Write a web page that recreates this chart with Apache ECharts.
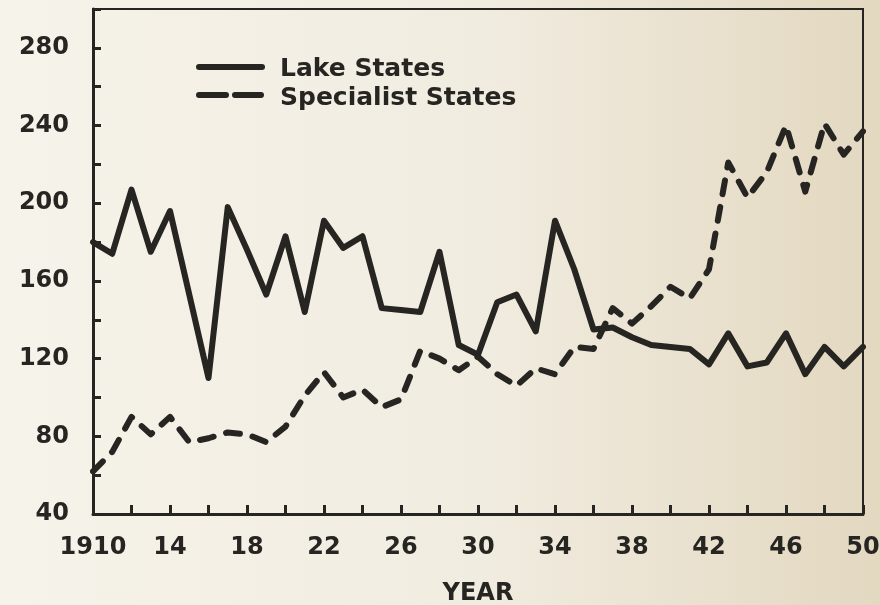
<!DOCTYPE html>
<html>
<head>
<meta charset="utf-8">
<script src="https://cdn.jsdelivr.net/npm/echarts@6/dist/echarts.min.js"></script>
<style>
html,body{margin:0;padding:0;}
#chart{width:880px;height:605px;}
</style>
</head>
<body>
<div id="chart"></div>
<script>
// Data
var years = [1910,1911,1912,1913,1914,1915,1916,1917,1918,1919,1920,1921,1922,1923,1924,1925,1926,1927,1928,1929,1930,1931,1932,1933,1934,1935,1936,1937,1938,1939,1940,1941,1942,1943,1944,1945,1946,1947,1948,1949,1950];
var lakeStates = [180,174,207,175,196,153,110,198,176,153,183,144,191,177,183,146,145,144,175,127,122,149,153,134,191,166,135,136,131,127,126,125,117,133,116,118,133,112,126,116,126];
var specialistStates = [62,72,90,81,90,77,79,82,81,77,85,101,113,100,104,95,99,124,120,114,121,112,106,115,112,126,125,146,138,147,157,151,166,221,203,216,240,206,241,225,237];
var xTickLabels = {1910:'1910',1914:'14',1918:'18',1922:'22',1926:'26',1930:'30',1934:'34',1938:'38',1942:'42',1946:'46',1950:'50'};
var yTickLabels = [40,80,120,160,200,240,280];
var seriesNames = ['Lake States','Specialist States'];
var xAxisTitle = 'YEAR';

function pairs(xs, ys){ return xs.map(function(x,i){ return [x, ys[i]]; }); }

var ink = '#262522';
var font = 'DejaVu Sans';
var dash = [14, 13];
var chart = echarts.init(document.getElementById('chart'));
chart.setOption({
  animation: false,
  backgroundColor: {
    type: 'linear', x: 0, y: 0, x2: 1, y2: 0,
    colorStops: [
      {offset: 0, color: '#f6f3ea'},
      {offset: 0.55, color: '#f1ece0'},
      {offset: 1, color: '#e3d8c0'}
    ]
  },
  grid: {
    left: 93, right: 17, top: 9, bottom: 91,
    containLabel: false, outerBoundsMode: 'none',
    show: true, borderColor: ink, borderWidth: 2, backgroundColor: 'transparent'
  },
  graphic: [
    {type: 'line', shape: {x1: 199, y1: 67, x2: 262, y2: 67},
     style: {stroke: ink, lineWidth: 6, lineCap: 'round'}},
    {type: 'line', shape: {x1: 199, y1: 95, x2: 226, y2: 95},
     style: {stroke: ink, lineWidth: 6, lineCap: 'round'}},
    {type: 'line', shape: {x1: 235, y1: 95, x2: 261, y2: 95},
     style: {stroke: ink, lineWidth: 6, lineCap: 'round'}},
    {type: 'text', left: 280, top: 57,
     style: {text: seriesNames[0], fill: ink, font: 'bold 25px "DejaVu Sans"'}},
    {type: 'text', left: 280, top: 86,
     style: {text: seriesNames[1], fill: ink, font: 'bold 25px "DejaVu Sans"'}}
  ],
  xAxis: {
    type: 'value', min: 1910, max: 1950, interval: 2,
    name: xAxisTitle, nameLocation: 'middle', nameGap: 68,
    nameTextStyle: {color: ink, fontFamily: font, fontWeight: 'bold', fontSize: 24},
    axisLine: {show: true, onZero: false, lineStyle: {color: ink, width: 3}},
    axisTick: {show: true, inside: true, length: 9, lineStyle: {color: ink, width: 3}},
    splitLine: {show: false},
    axisLabel: {
      color: ink, fontFamily: font, fontWeight: 'bold', fontSize: 24, margin: 22,
      showMinLabel: true, showMaxLabel: true,
      formatter: function(v){ return xTickLabels[v] || ''; }
    }
  },
  yAxis: {
    type: 'value', min: 40, max: 300, interval: 20,
    axisLine: {show: true, onZero: false, lineStyle: {color: ink, width: 3}},
    axisTick: {show: true, inside: true, length: 8, lineStyle: {color: ink, width: 3}},
    splitLine: {show: false},
    axisLabel: {
      color: ink, fontFamily: font, fontWeight: 'bold', fontSize: 24, margin: 24,
      formatter: function(v){ return yTickLabels.indexOf(v) >= 0 ? String(v) : ''; }
    }
  },
  series: [
    {
      name: seriesNames[0], type: 'line', data: pairs(years, lakeStates),
      symbol: 'none', color: ink,
      lineStyle: {color: ink, width: 6, cap: 'round', join: 'round'}
    },
    {
      name: seriesNames[1], type: 'line', data: pairs(years, specialistStates),
      symbol: 'none', color: ink,
      lineStyle: {color: ink, width: 6, type: dash, cap: 'round', join: 'round'}
    }
  ]
});
</script>
</body>
</html>
